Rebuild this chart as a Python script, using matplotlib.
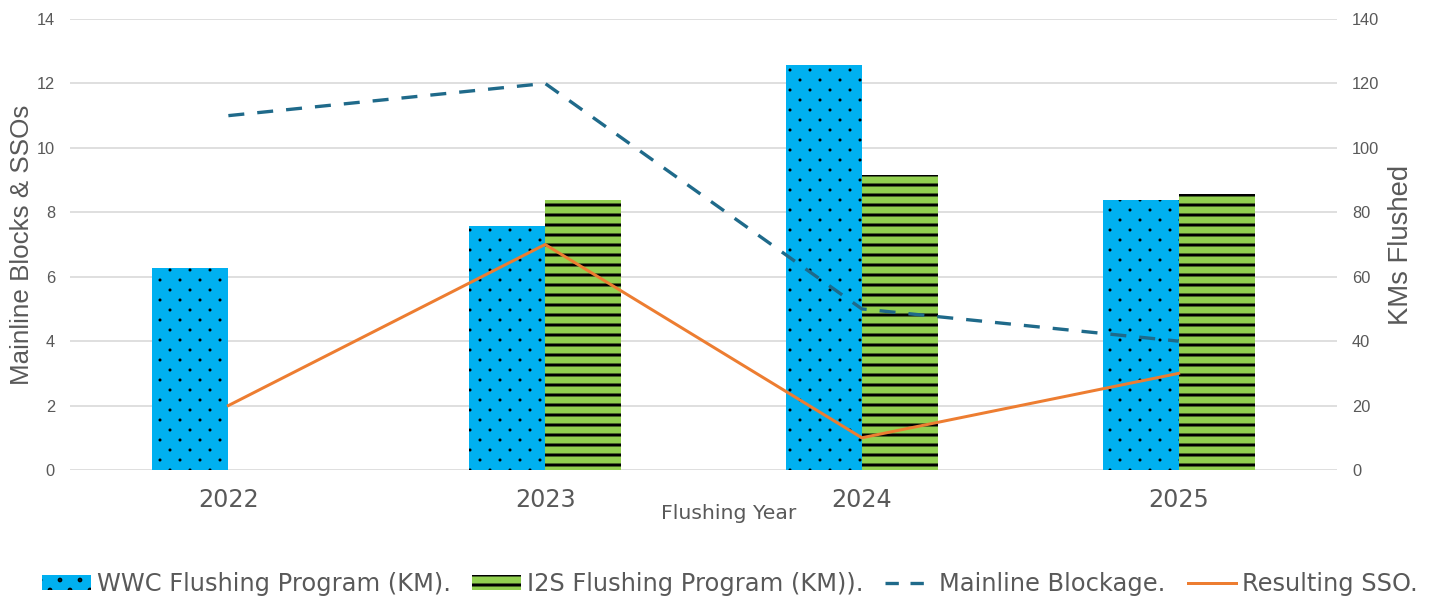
import numpy as np
import matplotlib
matplotlib.use("Agg")
import matplotlib.pyplot as plt
import matplotlib.hatch as mhatch
from matplotlib.path import Path
from matplotlib.lines import Line2D
from matplotlib.patches import Patch

years = ["2022", "2023", "2024", "2025"]
wwc_km = [62.7, 75.8, 125.8, 83.9]
i2s_km = [0, 83.9, 91.6, 85.7]
mainline_blockage = [11, 12, 5, 4]
resulting_sso = [2, 7, 1, 3]

BLUE = "#00B0F0"
GREEN = "#92D050"
TEAL = "#1F6A8A"
ORANGE = "#ED7D31"
GRAY = "#595959"


class SmallDots(mhatch.HatchPatternBase):
    """'.' hatch: small dots, rows every 1/12 unit, columns every 1/6, staggered."""

    def __init__(self, hatch, density):
        self.centres = []
        if hatch.count('.'):
            for r in range(13):
                if r % 2 == 0:
                    xs = np.arange(0, 7) / 6
                else:
                    xs = np.arange(0, 6) / 6 + 1 / 12
                for cx in xs:
                    self.centres.append((cx, r / 12))
        self.circle = Path.unit_circle()
        self.num_vertices = len(self.centres) * len(self.circle.vertices)

    def set_vertices_and_codes(self, vertices, codes):
        v = self.circle.vertices * 0.007
        parts = [v + c for c in self.centres]
        np.concatenate(parts, out=vertices)
        np.concatenate([self.circle.codes] * len(self.centres), out=codes)


mhatch._hatch_types = [t for t in mhatch._hatch_types
                       if t is not mhatch.SmallFilledCircles] + [SmallDots]

DPI = 120
fig = plt.figure(figsize=(1437 / DPI, 599 / DPI), dpi=DPI)
ax = fig.add_axes([70 / 1437, 1 - 470 / 599, 1267 / 1437, 451 / 599])
ax2 = ax.twinx()

x = np.arange(len(years))
w = 0.24


def black_hatch(patches):
    for p in patches:
        p._hatch_color = (0, 0, 0, 1)


# bars on the right (KM) axis
plt.rcParams["hatch.linewidth"] = 0.8
b1 = ax2.bar(x - w / 2, wwc_km, w, color=BLUE, hatch=".", edgecolor=BLUE, linewidth=0)
black_hatch(b1)
plt.rcParams["hatch.linewidth"] = 1.8
b2 = ax2.bar(x + w / 2, i2s_km, w, color=GREEN, hatch="--", edgecolor=GREEN, linewidth=0)
black_hatch(b2)

# lines on the left axis, drawn above the bars
ax.set_zorder(ax2.get_zorder() + 1)
ax.patch.set_visible(False)
ax.plot(x, mainline_blockage, color=TEAL, lw=2.0, dashes=(4.8, 3.9))
ax.plot(x, resulting_sso, color=ORANGE, lw=1.8)

ax.set_xlim(-0.5, 3.5)
ax.set_ylim(0, 14)
ax2.set_ylim(0, 140)
ax.set_yticks(range(0, 15, 2))
ax2.set_yticks(range(0, 141, 20))
ax2.set_axisbelow(True)
ax2.grid(axis="y", color="#D9D9D9", lw=1)

for a in (ax, ax2):
    for s in a.spines.values():
        s.set_visible(False)
    a.tick_params(axis="both", length=0)

ax.set_xticks(x)
ax.set_xticklabels(years, fontsize=14.3, color=GRAY, family="DejaVu Sans")
ax.tick_params(axis="x", pad=11)
ax.tick_params(axis="y", labelsize=9.8, labelcolor=GRAY, pad=9)
ax2.tick_params(axis="y", labelsize=9.8, labelcolor=GRAY, pad=9)
for lab in ax.get_yticklabels() + ax2.get_yticklabels():
    lab.set_family("Liberation Sans")

ax.set_xlabel("Flushing Year", fontsize=12.2, color=GRAY)
ax.xaxis.set_label_coords(0.520, -0.0747)
ax.set_ylabel("Mainline Blocks & SSOs", fontsize=15.6, color=GRAY, family="Liberation Sans")
ax.yaxis.set_label_coords(-0.0284, 0.499)
ax2.set_ylabel("KMs Flushed", fontsize=16.5, color=GRAY, family="Liberation Sans")
ax2.yaxis.set_label_coords(1.040, 0.5)

plt.rcParams["hatch.linewidth"] = 0.8
h1 = Patch(facecolor=BLUE, hatch=".", edgecolor=BLUE, linewidth=0)
plt.rcParams["hatch.linewidth"] = 1.8
h2 = Patch(facecolor=GREEN, hatch="--", edgecolor=GREEN, linewidth=0)
handles = [
    h1, h2,
    Line2D([], [], color=TEAL, lw=2.0, dashes=(4, 3.5)),
    Line2D([], [], color=ORANGE, lw=1.8),
]
labels = ["WWC Flushing Program (KM).", "I2S Flushing Program (KM)).",
          "Mainline Blockage.", "Resulting SSO."]
leg = fig.legend(handles, labels, loc="center", bbox_to_anchor=(0.508, 1 - 584 / 599), ncol=4,
                 frameon=False, fontsize=14.5, labelcolor=GRAY, handlelength=2.0, handleheight=0.55,
                 handletextpad=0.25, columnspacing=0.9)
black_hatch(leg.legend_handles[:2])

fig.savefig("out.png", dpi=DPI)
